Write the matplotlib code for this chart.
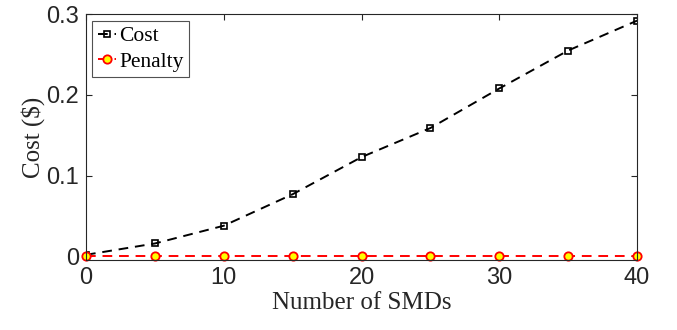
import numpy as np
import matplotlib.pyplot as plt

num_smds = [0, 5, 10, 15, 20, 25, 30, 35, 40]
cost = [0.002, 0.016, 0.038, 0.077, 0.123, 0.159, 0.208, 0.255, 0.292]
penalty = [0, 0, 0, 0, 0, 0, 0, 0, 0]

serif = 'Liberation Serif'
sans = 'Liberation Sans'

fig = plt.figure(figsize=(6.77, 3.3), dpi=100)
ax = fig.add_axes([0.127, 0.212, 0.814, 0.745])

ax.plot(num_smds, cost, 'k--s', markersize=4.5, markerfacecolor='none',
        markeredgewidth=1.2, linewidth=1.4, dashes=(5, 3.5), label='Cost')
ax.plot(num_smds, penalty, '--o', color='red', markersize=6,
        markerfacecolor='yellow', markeredgecolor='red', markeredgewidth=1.3,
        linewidth=1.4, dashes=(5, 3.5), label='Penalty', clip_on=False)

ax.set_xlim(0, 40)
ax.set_ylim(-0.0045, 0.3)
ax.set_xticks([0, 10, 20, 30, 40])
ax.set_yticks([0, 0.1, 0.2, 0.3])
ax.set_yticklabels(['0', '0.1', '0.2', '0.3'])

for s in ax.spines.values():
    s.set_color('#262626')
    s.set_linewidth(0.8)
ax.tick_params(direction='in', top=True, right=True, length=4, width=0.8,
               color='#262626', labelsize=17, pad=5)
for lbl in ax.get_xticklabels() + ax.get_yticklabels():
    lbl.set_fontfamily(sans)
    lbl.set_color('#262626')

ax.set_xlabel('Number of SMDs', fontfamily=serif, fontsize=18, color='#262626', labelpad=2)
ax.set_ylabel('Cost ($)', fontfamily=serif, fontsize=18, color='#262626', labelpad=1)

leg = ax.legend(loc='upper left', prop={'family': serif, 'size': 15.5},
                frameon=True, fancybox=False, edgecolor='#262626',
                handlelength=0.85, handletextpad=0.15, borderpad=0.25,
                labelspacing=0.25, borderaxespad=0.3)
leg.get_frame().set_linewidth(0.8)

fig.savefig('out.png', dpi=100)
